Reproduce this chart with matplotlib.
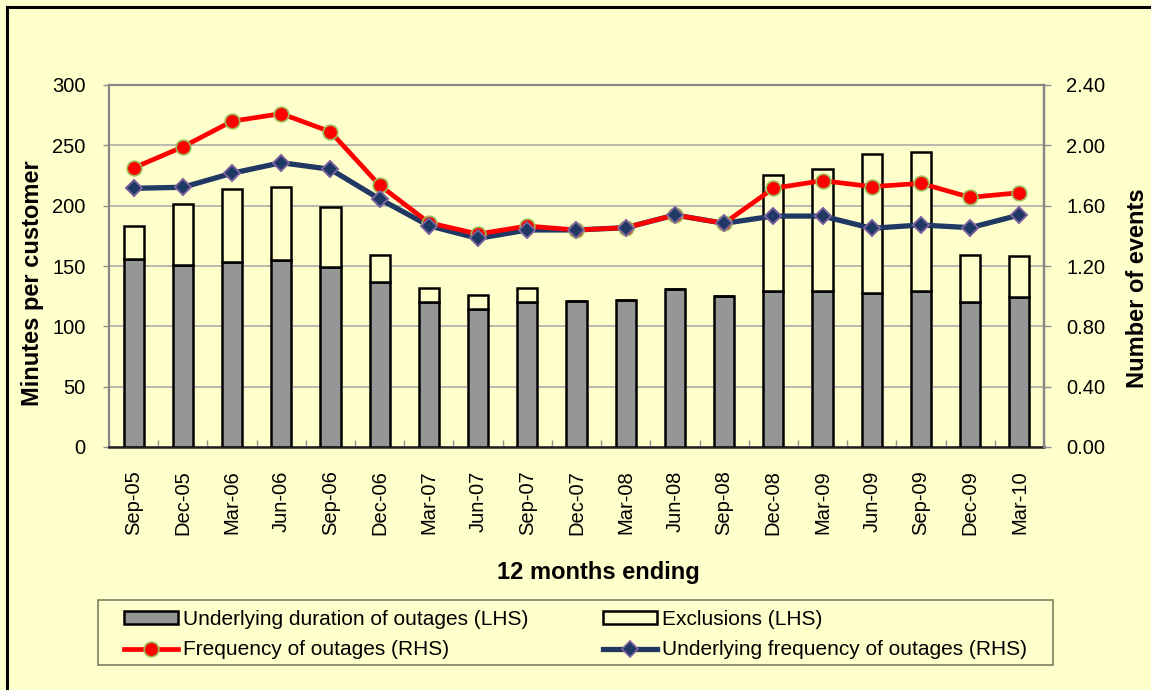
import numpy as np
import matplotlib
matplotlib.use("Agg")
import matplotlib.pyplot as plt
from matplotlib.lines import Line2D
from matplotlib.patches import Rectangle

plt.rcParams['font.family'] = ['Liberation Sans', 'DejaVu Sans']

categories = ["Sep-05", "Dec-05", "Mar-06", "Jun-06", "Sep-06", "Dec-06", "Mar-07",
              "Jun-07", "Sep-07", "Dec-07", "Mar-08", "Jun-08", "Sep-08", "Dec-08",
              "Mar-09", "Jun-09", "Sep-09", "Dec-09", "Mar-10"]
underlying_duration = [156, 151, 153, 155, 149.5, 137, 120.5, 114, 120.5, 121, 121.5,
                       131, 125, 129, 129, 127.5, 129, 120.5, 124]
exclusions = [27, 50.5, 61, 60.5, 49.5, 22, 11.5, 12, 11.5, 0, 0, 0, 0, 96.5, 101.5,
              115.5, 115.5, 38.5, 34.5]
frequency = [1.85, 1.99, 2.16, 2.21, 2.09, 1.735, 1.487, 1.412, 1.465, 1.439, 1.454,
             1.538, 1.483, 1.715, 1.766, 1.726, 1.748, 1.655, 1.686]
underlying_frequency = [1.715, 1.722, 1.815, 1.885, 1.841, 1.644, 1.467, 1.383, 1.439,
                        1.439, 1.454, 1.538, 1.483, 1.531, 1.531, 1.45, 1.472, 1.454, 1.538]
left_ticks = [0, 50, 100, 150, 200, 250, 300]
right_ticks = [0.0, 0.4, 0.8, 1.2, 1.6, 2.0, 2.4]

BG = '#FFFFCC'
W, H = 1151, 690
fig = plt.figure(figsize=(W / 100, H / 100), dpi=100, facecolor=BG)

def fx(px):
    return px / W

def fy(py):
    return 1 - py / H

ax = fig.add_axes([fx(109), fy(447), fx(1044) - fx(109), fy(85) - fy(447)])
ax.set_facecolor(BG)
x = np.arange(len(categories))

ax.bar(x, underlying_duration, width=0.41, color='#969696', edgecolor='black',
       linewidth=1.8, zorder=3)
ax.bar(x, exclusions, bottom=underlying_duration, width=0.41, color=BG,
       edgecolor='black', linewidth=1.8, zorder=3)

ax.set_xlim(-0.5, len(categories) - 0.5)
ax.set_ylim(0, 300)
ax.set_yticks(left_ticks)
ax.set_yticklabels([str(t) for t in left_ticks], fontsize=14.5)
ax.yaxis.grid(True, color='#A6A6A6', linewidth=1.1, zorder=0)
ax.set_axisbelow(True)
ax.set_xticks(x)
ax.set_xticklabels(categories, rotation=90, fontsize=14.5)
ax.tick_params(axis='x', which='major', length=0, pad=17)
ax.set_xticks(np.arange(len(categories) + 1) - 0.5, minor=True)
ax.tick_params(axis='x', which='minor', direction='in', length=5, color='#909090', width=1)
ax.tick_params(axis='y', direction='out', length=4, color='#909090', width=1, pad=13)

for s in ['left', 'top', 'right']:
    ax.spines[s].set_color('#868686')
    ax.spines[s].set_linewidth(1.6)
ax.spines['bottom'].set_color('#202020')
ax.spines['bottom'].set_linewidth(1.8)

ax2 = ax.twinx()
ax2.set_ylim(0, 2.4)
ax2.set_yticks(right_ticks)
ax2.set_yticklabels(["%.2f" % t for t in right_ticks], fontsize=14.5)
ax2.tick_params(axis='y', direction='out', length=5, color='#909090', width=1, pad=11)
for s in ['left', 'top', 'bottom']:
    ax2.spines[s].set_visible(False)
ax2.spines['right'].set_color('#868686')
ax2.spines['right'].set_linewidth(1.6)

red_kw = dict(color='#FF0000', linewidth=3.4, marker='o', markersize=10.5,
              markerfacecolor='#FF0000', markeredgecolor='#9BBB59', markeredgewidth=1.2)
blue_kw = dict(color='#1F3864', linewidth=3.8, marker='D', markersize=8.5,
               markerfacecolor='#1F3864', markeredgecolor='#8064A2', markeredgewidth=1.2)
ax2.plot(x, underlying_frequency, zorder=4, **blue_kw)
ax2.plot(x, frequency, zorder=5, **red_kw)
# redraw blue markers on top of red where they overlap
ax2.plot(x, underlying_frequency, linestyle='none', zorder=6,
         marker='D', markersize=8.5, markerfacecolor='#1F3864',
         markeredgecolor='#8064A2', markeredgewidth=1.2)

fig.text(fx(33), fy(283), "Minutes per customer", rotation=90, fontsize=17,
         fontweight='bold', ha='center', va='center')
fig.text(fx(1137), fy(288), "Number of events", rotation=90, fontsize=17,
         fontweight='bold', ha='center', va='center')
fig.text(fx(598), fy(572), "12 months ending", fontsize=17, fontweight='bold',
         ha='center', va='center')

# legend frame
fig.patches.append(Rectangle((fx(98), fy(665)), fx(1053) - fx(98), fy(600) - fy(665),
                             transform=fig.transFigure, facecolor='none',
                             edgecolor='#7F7F60', linewidth=1.2))
h_ud = Rectangle((0, 0), 1, 1, facecolor='#969696', edgecolor='black', linewidth=1.8)
h_ex = Rectangle((0, 0), 1, 1, facecolor=BG, edgecolor='black', linewidth=1.8)
h_fr = Line2D([], [], **red_kw)
h_uf = Line2D([], [], **blue_kw)
fig.legend([h_ud, h_fr, h_ex, h_uf],
           ["Underlying duration of outages (LHS)", "Frequency of outages (RHS)",
            "Exclusions (LHS)", "Underlying frequency of outages (RHS)"],
           ncol=2, loc='upper left', bbox_to_anchor=(fx(124), fy(610)),
           frameon=False, fontsize=15, borderpad=0, borderaxespad=0,
           handlelength=2.6, handletextpad=0.25, columnspacing=3.55,
           labelspacing=0.55, numpoints=1, handleheight=0.55)

# figure border (left and top)
fig.add_artist(Line2D([fx(7), fx(7)], [fy(7), 0], transform=fig.transFigure,
                      color='black', linewidth=2.2))
fig.add_artist(Line2D([fx(7), 1], [fy(7), fy(7)], transform=fig.transFigure,
                      color='black', linewidth=2.2))

fig.savefig("out.png", dpi=100, facecolor=BG)
